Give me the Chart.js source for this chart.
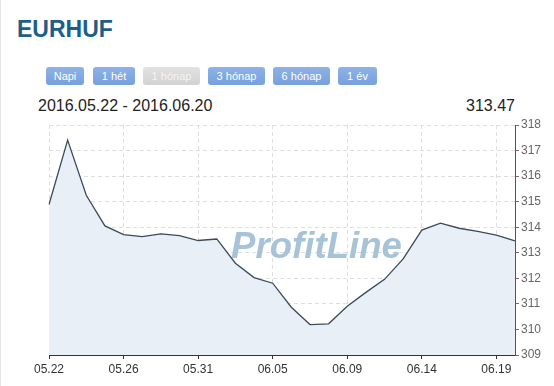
<!DOCTYPE html>
<html>
<head>
<meta charset="utf-8">
<title>EURHUF</title>
<script src="https://cdn.jsdelivr.net/npm/chart.js"></script>
<style>
    body {
        margin: 0;
        background: #fff;
        font-family: Arial, 'Liberation Sans', sans-serif;
    }
    #page {
        position: relative;
        width: 553px;
        height: 386px;
        border-left: 1px solid #e6e6e6;
        overflow: hidden;
    }
    #chart {
        position: absolute;
        left: -1px;
        top: 0;
    }
    .title {
        position: absolute;
        left: 16px;
        top: 18px;
        font-size: 23px;
        line-height: 23px;
        font-weight: bold;
        color: #1d5f8a;
    }
    .btn {
        position: absolute;
        top: 67px;
        height: 18px;
        line-height: 18px;
        font-size: 11px;
        color: #fff;
        text-align: center;
        border-radius: 3px;
        background: linear-gradient(#8db2e8, #77a0dc);
    }
    .btn.off {
        background: linear-gradient(#e2e2e2, #d2d2d2);
        color: #f4f4f4;
    }
    .range {
        position: absolute;
        top: 98px;
        font-size: 16px;
        line-height: 16px;
        color: #222;
    }
</style>
</head>
<body>
<div id="page">
    <div class="title">EURHUF</div>
    <div class="btn" style="left:45px;width:38px">Napi</div>
    <div class="btn" style="left:92px;width:42px">1 hét</div>
    <div class="btn off" style="left:142px;width:57px">1 hónap</div>
    <div class="btn" style="left:207px;width:57px">3 hónap</div>
    <div class="btn" style="left:272px;width:57px">6 hónap</div>
    <div class="btn" style="left:337px;width:39px">1 év</div>
    <div class="range" style="left:37px">2016.05.22 - 2016.06.20</div>
    <div class="range" style="left:465px">313.47</div>
    <canvas id="chart" width="554" height="386"></canvas>
</div>

<script>
// trading days shown on the x axis (every 4th one gets a label)
const dates = [
    '05.22', '05.23', '05.24', '05.25', '05.26', '05.27', '05.29', '05.30',
    '05.31', '06.01', '06.02', '06.03', '06.05', '06.06', '06.07', '06.08',
    '06.09', '06.10', '06.12', '06.13', '06.14', '06.15', '06.16', '06.17',
    '06.19', '06.20'
];

// EUR/HUF closing rates
const rates = [
    314.89, 317.41, 315.25, 314.05, 313.71, 313.63, 313.74, 313.67,
    313.48, 313.54, 312.59, 312.03, 311.81, 310.87, 310.19, 310.22,
    310.91, 311.45, 311.96, 312.76, 313.89, 314.16, 313.96, 313.84,
    313.69, 313.47
];

const yMin = 309;
const yMax = 318;
const labelEvery = 4;

const gridColor = '#dedede';

// faint ProfitLine logo behind the line
const watermark = {
    id: 'watermark',
    beforeDatasetsDraw(chart) {
        const ctx = chart.ctx;
        ctx.save();
        ctx.font = 'italic bold 37px Arial, "Liberation Sans", sans-serif';
        ctx.fillStyle = '#a7c3d7';
        ctx.textBaseline = 'alphabetic';
        ctx.fillText('ProfitLine', 231, 258, 171);
        ctx.restore();
    }
};

function initializeChart() {
    const ctx = document.getElementById('chart').getContext('2d');
    new Chart(ctx, {
        type: 'line',
        data: {
            labels: dates,
            datasets: [{
                data: rates,
                borderColor: '#3d4a5a',
                borderWidth: 1.3,
                backgroundColor: '#e8eff7',
                fill: 'start',
                pointRadius: 0,
                tension: 0
            }]
        },
        options: {
            responsive: false,
            animation: false,
            devicePixelRatio: 1,
            layout: {
                padding: { left: 49, top: 125, right: 0, bottom: 0 }
            },
            plugins: {
                legend: { display: false },
                tooltip: { enabled: false }
            },
            scales: {
                x: {
                    afterFit: scale => { scale.height = 31; },
                    grid: {
                        color: c => c.index % labelEvery === 0 ? gridColor : 'transparent',
                        tickColor: c => c.index % labelEvery === 0 ? '#333' : 'transparent',
                        tickLength: 4,
                        tickBorderDash: []
                    },
                    border: { color: '#333', width: 1, dash: [4, 3] },
                    ticks: {
                        autoSkip: false,
                        maxRotation: 0,
                        padding: 3,
                        color: '#333',
                        font: { family: 'Arial, "Liberation Sans", sans-serif', size: 12 },
                        callback: (val, i) => i % labelEvery === 0 ? dates[i] : ''
                    }
                },
                y: {
                    position: 'right',
                    min: yMin,
                    max: yMax,
                    afterFit: scale => { scale.width = 39; },
                    grid: {
                        color: c => c.tick && c.tick.value % 1 === 0 ? gridColor : 'transparent',
                        tickColor: '#8a6464',
                        tickLength: 4,
                        tickBorderDash: []
                    },
                    border: { color: '#555', width: 1, dash: [4, 3] },
                    ticks: {
                        stepSize: 0.5,
                        padding: 2,
                        color: '#666',
                        font: { family: 'Arial, "Liberation Sans", sans-serif', size: 12 },
                        callback: v => v % 1 === 0 ? v : ''
                    }
                }
            }
        },
        plugins: [watermark]
    });
}

document.addEventListener('DOMContentLoaded', () => {
    initializeChart();
});
</script>
</body>
</html>
